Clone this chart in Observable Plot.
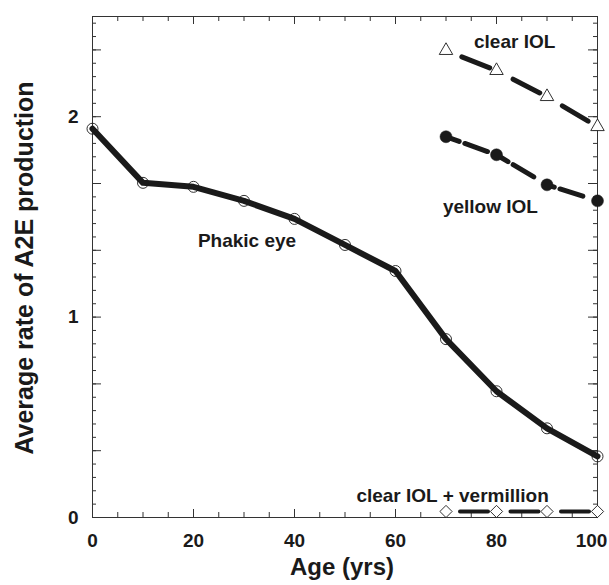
<!DOCTYPE html>
<html>
<head>
<meta charset="utf-8">
<script src="https://cdn.jsdelivr.net/npm/d3@7"></script>
<script src="https://cdn.jsdelivr.net/npm/@observablehq/plot@0.6"></script>
<style>
  html, body { margin: 0; padding: 0; background: #fff; }
  #chart { width: 609px; height: 585px; }
</style>
</head>
<body>
<div id="chart"></div>
<script>
// ---- data ----
const phakicAge = [0, 10, 20, 30, 40, 50, 60, 70, 80, 90, 100];
const phakicRate = [1.94, 1.67, 1.65, 1.58, 1.49, 1.36, 1.23, 0.89, 0.63, 0.445, 0.305];

const iolAge = [70, 80, 90, 100];
const clearIolRate = [2.33, 2.23, 2.10, 1.95];
const yellowIolRate = [1.90, 1.81, 1.66, 1.58];
const vermillionRate = [0.03, 0.03, 0.03, 0.03];

const labelText = ["clear IOL", "yellow IOL", "Phakic eye", "clear IOL + vermillion"];
const labelX = [83.6, 78.8, 30.6, 71.3];
const labelY = [2.372, 1.548, 1.38, 0.11];

const xTickLabels = [0, 20, 40, 60, 80];
const xLastTickLabel = [100];
const xMajorTicks = [0, 20, 40, 60, 80, 100];
const xMinorTicks = d3.range(0, 100.001, 5);
const yTickLabels = [0, 1, 2];
const yMajorTicks = [0, 1/3, 2/3, 1, 4/3, 5/3, 2, 7/3];
const yMinorTicks = d3.range(0, 2.5, 1/15);

// ---- layout ----
const W = 609, H = 585;
const mTop = 16, mRight = 12, mBottom = 68, mLeft = 92;
const innerW = W - mLeft - mRight;
const innerH = H - mTop - mBottom;

const phakic = phakicAge.map((a, i) => ({age: a, rate: phakicRate[i]}));
const clear = iolAge.map((a, i) => ({age: a, rate: clearIolRate[i]}));
const yellow = iolAge.map((a, i) => ({age: a, rate: yellowIolRate[i]}));
const verm = iolAge.map((a, i) => ({age: a, rate: vermillionRate[i]}));
const labels = labelText.map((t, i) => ({text: t, x: labelX[i], y: labelY[i]}));

const ink = "#1a1a1a";
const tickColor = "#333";
const font = "'Liberation Sans', Arial, Helvetica, sans-serif";

function xTicks(values, len) {
  return [
    Plot.tickX(values, {x: d => d, stroke: tickColor, strokeWidth: 1, insetTop: innerH - len}),
    Plot.tickX(values, {x: d => d, stroke: tickColor, strokeWidth: 1, insetBottom: innerH - len})
  ];
}
function yTicks(values, len) {
  return [
    Plot.tickY(values, {y: d => d, stroke: tickColor, strokeWidth: 1, insetRight: innerW - len}),
    Plot.tickY(values, {y: d => d, stroke: tickColor, strokeWidth: 1, insetLeft: innerW - len})
  ];
}

const chart = Plot.plot({
  width: W,
  height: H,
  marginTop: mTop,
  marginRight: mRight,
  marginBottom: mBottom,
  marginLeft: mLeft,
  style: {fontFamily: font, fontWeight: "bold", fontSize: "19px", color: ink, background: "#fff"},
  x: {domain: [0, 100]},
  y: {domain: [0, 2.5]},
  marks: [
    ...xTicks(xMinorTicks, 5),
    ...xTicks(xMajorTicks, 8),
    ...yTicks(yMinorTicks, 4),
    ...yTicks(yMajorTicks, 9),
    Plot.frame({stroke: tickColor, strokeWidth: 1}),
    Plot.axisX({ticks: xTickLabels, tickSize: 0, tickPadding: 16, label: null, tickFormat: d3.format("d"), fontSize: 19, fontWeight: "bold", fill: ink}),
    Plot.axisX({ticks: xLastTickLabel, tickSize: 0, tickPadding: 16, label: null, tickFormat: d3.format("d"), fontSize: 19, fontWeight: "bold", fill: ink, dx: -6}),
    Plot.axisY({ticks: yTickLabels, tickSize: 0, tickPadding: 14, label: null, tickFormat: d3.format("d"), fontSize: 19, fontWeight: "bold", fill: ink}),

    // Phakic eye
    Plot.line(phakic, {x: "age", y: "rate", stroke: ink, strokeWidth: 6, strokeLinejoin: "round"}),
    Plot.dot(phakic, {x: "age", y: "rate", r: 5.5, stroke: ink, strokeWidth: 0.9, fill: "none"}),

    // clear IOL
    Plot.line(clear, {x: "age", y: "rate", stroke: ink, strokeWidth: 5, strokeDasharray: "30,26", strokeDashoffset: 39}),
    Plot.dot(clear, {x: "age", y: "rate", symbol: "triangle", r: 5, stroke: ink, strokeWidth: 0.9, fill: "white"}),

    // yellow IOL
    Plot.line(yellow, {x: "age", y: "rate", stroke: ink, strokeWidth: 5, strokeDasharray: "9,6,24,14", strokeDashoffset: 48}),
    Plot.dot(yellow, {x: "age", y: "rate", r: 6, fill: ink, stroke: ink, strokeWidth: 0.5}),

    // clear IOL + vermillion
    Plot.line(verm, {x: "age", y: "rate", stroke: ink, strokeWidth: 4, strokeDasharray: "28,22.5", strokeDashoffset: 36.5}),
    Plot.dot(verm, {x: "age", y: "rate", symbol: "diamond2", r: 5.5, stroke: ink, strokeWidth: 0.9, fill: "white"}),

    // series labels
    Plot.text(labels, {x: "x", y: "y", text: "text", fontSize: 19, fontWeight: "bold", fill: ink, textAnchor: "middle", lineAnchor: "middle"}),

    // axis titles
    Plot.text(["Age (yrs)"], {frameAnchor: "bottom", textAnchor: "middle", dx: -3, dy: 50, fontSize: 24, fontWeight: "bold", fill: ink, lineAnchor: "middle"}),
    Plot.text(["Average rate of A2E production"], {frameAnchor: "left", textAnchor: "middle", dx: -68, dy: 1, rotate: -90, fontSize: 25, fontWeight: "bold", fill: ink, lineAnchor: "middle"})
  ]
});

document.getElementById("chart").appendChild(chart);
</script>
</body>
</html>
